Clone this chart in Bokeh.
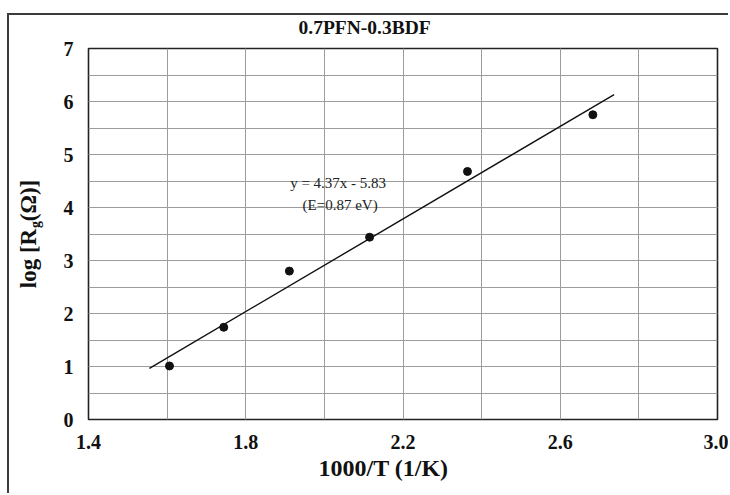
from bokeh.plotting import figure
from bokeh.models import Range1d, FixedTicker, Label, Title, LinearAxis
from bokeh.embed import file_html
from bokeh.resources import INLINE

# ---- data ----
inv_T = [1.606, 1.744, 1.911, 2.115, 2.364, 2.683]      # 1000/T (1/K)
log_Rg = [1.01, 1.74, 2.80, 3.44, 4.68, 5.75]           # log Rg (ohm)
fit_slope = 4.37
fit_intercept = -5.83
fit_x = [1.555, 2.737]
fit_y = [fit_slope * v + fit_intercept for v in fit_x]

x_major = [1.4, 1.8, 2.2, 2.6, 3.0]
x_tick_labels = ["1.4", "1.8", "2.2", "2.6", "3.0"]
x_minor = [1.4, 1.6, 1.8, 2.0, 2.2, 2.4, 2.6, 2.8, 3.0]
y_major = [0, 1, 2, 3, 4, 5, 6, 7]
y_minor = [0, 0.5, 1, 1.5, 2, 2.5, 3, 3.5, 4, 4.5, 5, 5.5, 6, 6.5, 7]

title_text = "0.7PFN-0.3BDF"
xlabel_text = "1000/T (1/K)"
ylabel_main = "log [R\u2004(Ω)]"     # gap holds the subscript
ylabel_sub = "g"
ylabel_sub_at = 3.677                # position of the subscript along y
eq_text = "y = 4.37x - 5.83"
energy_text = "(E=0.87 eV)"

SERIF = "Liberation Serif"
INK = "#111111"
FRAME = "#3c3c3c"

p = figure(width=728, height=493, output_backend="svg", toolbar_location=None,
           x_range=Range1d(1.4, 3.0), y_range=Range1d(0, 7),
           min_border_left=88, min_border_right=11, min_border_top=48, min_border_bottom=74)
# outer scanned-page frame (left and top edges) drawn behind the transparent canvas border
p.styles = {
    "background": (f"linear-gradient({FRAME},{FRAME}) 7px 13px / 2px 600px no-repeat, "
                   f"linear-gradient({FRAME},{FRAME}) 7px 13px / 900px 2px no-repeat, white"),
}

p.background_fill_color = "white"
p.border_fill_color = None
p.outline_line_color = "#222222"
p.outline_line_width = 1.6

# title
p.title.text = title_text
p.title.text_font = SERIF
p.title.text_font_style = "bold"
p.title.text_font_size = "19.5px"
p.title.text_color = INK
p.title.align = "left"
p.title.offset = 210
p.title.standoff = 21

# axes
p.xaxis.ticker = FixedTicker(ticks=x_major, minor_ticks=x_minor)
p.yaxis.ticker = FixedTicker(ticks=y_major, minor_ticks=y_minor)
p.xaxis.major_label_overrides = {t: l for t, l in zip(x_major, x_tick_labels)}
for ax in (p.xaxis, p.yaxis):
    ax.axis_line_color = None
    ax.major_tick_line_color = None
    ax.minor_tick_line_color = None
    ax.major_tick_out = 0
    ax.major_tick_in = 0
    ax.minor_tick_out = 0
    ax.minor_tick_in = 0
    ax.major_label_text_font = SERIF
    ax.major_label_text_font_style = "bold"
    ax.major_label_text_font_size = "20px"
    ax.major_label_text_color = INK
p.xaxis.major_label_standoff = 15
p.yaxis.major_label_standoff = 15

# y axis title with subscript: an extra left axis whose only tick label is the subscript
ylab_axis = LinearAxis(ticker=FixedTicker(ticks=[ylabel_sub_at]),
                       major_label_overrides={ylabel_sub_at: ylabel_sub},
                       axis_label=ylabel_main)
ylab_axis.axis_line_color = None
ylab_axis.major_tick_line_color = None
ylab_axis.minor_tick_line_color = None
ylab_axis.major_tick_out = 0
ylab_axis.major_tick_in = 0
ylab_axis.minor_tick_out = 0
ylab_axis.minor_tick_in = 0
ylab_axis.major_label_orientation = "vertical"
ylab_axis.major_label_text_font = SERIF
ylab_axis.major_label_text_font_style = "bold"
ylab_axis.major_label_text_font_size = "14px"
ylab_axis.major_label_text_color = INK
ylab_axis.major_label_standoff = 17
ylab_axis.axis_label_text_font = SERIF
ylab_axis.axis_label_text_font_style = "bold"
ylab_axis.axis_label_text_font_size = "23px"
ylab_axis.axis_label_text_color = INK
ylab_axis.axis_label_standoff = -15
p.add_layout(ylab_axis, "left")

# x axis title, shifted left like the reference
p.add_layout(Title(text=xlabel_text, text_font=SERIF, text_font_style="bold",
                   text_font_size="24px", text_color=INK, align="left",
                   offset=230, standoff=3), "below")

# grids
for g in (p.xgrid, p.ygrid):
    g.grid_line_color = "#9c9c9c"
    g.grid_line_width = 1
    g.minor_grid_line_color = "#9c9c9c"
    g.minor_grid_line_width = 1

# fit line and points
p.line(fit_x, fit_y, line_color=INK, line_width=1.4)
p.scatter(inv_T, log_Rg, size=8, marker="circle", fill_color=INK, line_color=INK)

# equation texts
p.add_layout(Label(x=2.035, y=4.46, text=eq_text, text_font=SERIF,
                   text_font_size="15px", text_align="center", text_baseline="middle",
                   text_color="#222222"))
p.add_layout(Label(x=2.04, y=4.05, text=energy_text, text_font=SERIF,
                   text_font_size="15px", text_align="center", text_baseline="middle",
                   text_color="#222222"))

open("out.html", "w").write(file_html(p, INLINE))
